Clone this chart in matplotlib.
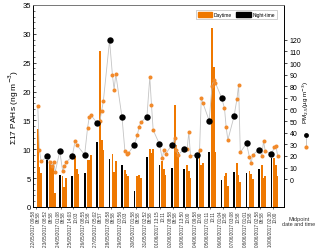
import numpy as np
import matplotlib
matplotlib.use('Agg')
import matplotlib.pyplot as plt
from matplotlib.patches import Patch
from matplotlib.lines import Line2D

plt.rcParams['font.family'] = ['Liberation Sans', 'DejaVu Sans']

## Sample midpoint labels (one tick per day)
dates = ['22/05/2017', '23/05/2017', '24/05/2017', '25/05/2017', '26/05/2017',
         '27/05/2017', '28/05/2017', '29/05/2017', '30/05/2017', '31/05/2017',
         '01/06/2017', '02/06/2017', '03/06/2017', '04/06/2017', '05/06/2017',
         '06/06/2017', '07/06/2017', '08/06/2017', '09/06/2017', '10/06/2017']
times_a = ['09:58', '08:52', '01:08', '14:03', '08:55', '05:02', '08:58', '03:56', '01:58', '02:52',
           '13:15', '08:58', '13:50', '09:58', '01:11', '01:04', '03:08', '01:01', '02:58', '02:30']
times_b = ['08:58', '08:58', '08:58', '10:03', '10:58', '08:57', '08:58', '10:03', '08:58', '08:58',
           '10:11', '08:58', '10:00', '10:00', '10:11', '10:58', '10:58', '10:58', '08:58', '10:00']

## Night-time samples: sum of 17 PAHs (ng m-3) and PM2.5 (ug m-3)
night_pah = [np.nan, 8.1, 5.5, 5.4, 5.9, 11.3, 8.3, 7.2, 2.7, 8.7,
             7.3, 6.7, 6.6, 9.3, 9.5, 4.7, 6.0, 5.9, 6.5, 8.5]
night_pm = [np.nan, 19.6, 23.9, 19.6, 21.0, 48.2, 119.5, 53.2, 29.6, 53.6,
            30.3, 29.6, 25.9, 20.7, 50.4, 70.0, 54.2, 30.8, 25.3, 21.6]

## Daytime samples (several per day)
day_pah = [[13.5, 6.9, 5.9], [8.0, 6.9, 8.0, 2.5], [5.4, 3.4, 5.1], [8.9, 6.6, 5.8],
           [8.1, 8.1, 9.0], [27.0, 11.6, 9.8], [9.2, 6.0, 8.0], [6.4, 5.8, 5.4],
           [5.3, 5.5, 5.0], [10.0, 9.3, 10.1], [8.0, 6.5, 5.5], [17.6, 10.7, 9.5],
           [7.2, 6.3, 5.1], [9.5, 7.3, 7.7], [31.1, 24.2, 9.5], [5.3, 5.9, 3.7],
           [7.7, 5.5, 4.3], [6.3, 5.7, 4.9], [7.3, 5.1, 5.3], [8.5, 7.3, 5.4]]
day_pm = [[63.4, 25.3, 15.3], [14.4, 11.0, 14.4, 6.3], [7.2, 11.0, 14.4], [32.6, 29.4, np.nan],
          [44.0, 53.3, 55.3], [50.4, 59.0, 67.2], [89.5, 77.2, 90.5], [24.5, 21.6, 22.2],
          [38.0, 44.7, 49.0], [87.9, 64.2, 42.4], [17.9, 25.3, 21.6], [35.2, 25.3, 21.0],
          [25.9, 40.3, 20.2], [25.3, 70.0, 65.5], [80.1, 85.0, 83.0], [61.1, 44.7, 33.7],
          [69.1, 81.2, 23.0], [19.3, 13.6, 21.0], [20.2, 32.6, 24.5], [27.4, 28.3, 20.2]]

ORANGE_BAR = '#ef7800'
ORANGE_DOT = '#f28a2a'

fig = plt.figure(figsize=(3.2, 2.53), dpi=100)
ax = fig.add_axes([33/320, 1-208/253, (284-33)/320, (208-6)/253])
ax2 = ax.twinx()

## Build the sample positions: night sample just before the tick, day samples after
night_x = []
day_x = []
for k in range(len(dates)):
    night_x.append(k - 0.09)
    day_x.append([k + 0.14 + 0.135*i for i in range(len(day_pah[k]))])

ax.bar(night_x, night_pah, width=0.14, color='black', zorder=2)
for k in range(len(dates)):
    ax.bar(day_x[k], day_pah[k], width=0.135, color=ORANGE_BAR, zorder=2)

## PM2.5 time series on the right axis, in time order
all_x = []
all_pm = []
for k in range(len(dates)):
    all_x.append(night_x[k])
    all_pm.append(night_pm[k])
    all_x.extend(day_x[k])
    all_pm.extend(day_pm[k])
all_x = np.array(all_x)
all_pm = np.array(all_pm)
ok = ~np.isnan(all_pm)
ax2.plot(all_x[ok], all_pm[ok], color='#c4c4c4', lw=0.6, zorder=1)
dx = [x for xs in day_x for x in xs]
dp = [p for ps in day_pm for p in ps]
ax2.plot(dx, dp, 'o', color=ORANGE_DOT, ms=2.9, mec='none', zorder=3)
ax2.plot(night_x, night_pm, 'o', color='black', ms=4.6, mec='none', zorder=4)

## Left axis
ax.set_xlim(-0.24, 19.92)
ax.set_ylim(0, 35)
ax.set_yticks(np.arange(0, 36, 5))
ax.set_yticks(np.arange(0, 36, 1), minor=True)
ax.tick_params(axis='y', which='major', direction='in', length=2.5, width=0.5, labelsize=5.5, pad=1.5)
ax.tick_params(axis='y', which='minor', direction='in', length=1.2, width=0.4)
ax.set_ylabel('Σ17 PAHs (ng m$^{-3}$)', fontsize=6, labelpad=1)
ax.set_xticks(range(len(dates)))
labels = [f'{d} {a}\n{b}' for d, a, b in zip(dates, times_a, times_b)]
ax.set_xticklabels(labels, rotation=90, fontsize=3.3, color='#333333', multialignment='right',
                   linespacing=1.0)
ax.tick_params(axis='x', direction='out', length=1.5, width=0.4, pad=1)
for s in ax.spines.values():
    s.set_linewidth(0.6)
ax.spines['top'].set_color('#777777')

## Right axis
ax2.set_ylim(-24, 150)
ax2.set_yticks(np.arange(0, 121, 10))
ax2.tick_params(axis='y', direction='out', length=2.5, width=0.5, labelsize=5, pad=1.5)
for s in ax2.spines.values():
    s.set_linewidth(0.6)
ax2.spines['top'].set_color('#777777')

## Legend
handles = [Patch(color=ORANGE_BAR, label='Daytime'), Patch(color='black', label='Night-time')]
leg = ax.legend(handles=handles, loc='upper right', ncol=2, fontsize=3.5, frameon=True,
                fancybox=False, edgecolor='#999999', handlelength=3, handleheight=1.2,
                columnspacing=0.8, handletextpad=0.4, borderpad=0.3,
                bbox_to_anchor=(0.98, 0.985))
leg.get_frame().set_linewidth(0.4)

## Right side annotation (PM2.5 key)
fig.text(306/320, 1-103/253, 'PM$_{2.5}$(µg m$^{-3}$)', rotation=90, fontsize=4.5,
         ha='center', va='center')
fig.add_artist(Line2D([306/320, 306/320], [1-136/253, 1-148/253], color='#bbbbbb', lw=0.6))
fig.add_artist(Line2D([306/320], [1-136/253], marker='o', color='black', ms=3.5, mec='none'))
fig.add_artist(Line2D([306/320], [1-148/253], marker='o', color=ORANGE_DOT, ms=3, mec='none'))
fig.text(299/320, 1-222/253, 'Midpoint\ndate and time', fontsize=4, ha='center', va='center',
         color='#333333')

plt.savefig('out.png', dpi=100)
